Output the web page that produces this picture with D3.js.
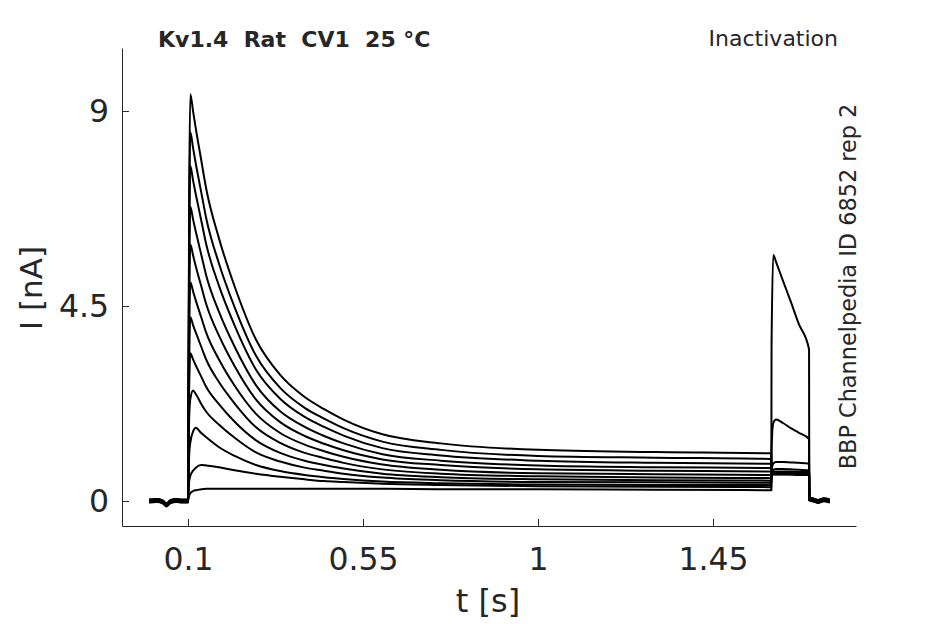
<!DOCTYPE html>
<html>
<head>
<meta charset="utf-8">
<script src="https://cdn.jsdelivr.net/npm/d3@7"></script>
<style>
  body { margin: 0; background: #fff; }
  text { font-family: "DejaVu Sans", sans-serif; fill: #262626; }
</style>
</head>
<body>
<div id="chart"></div>
<script>
// tick values
var xTicks = [0.1, 0.55, 1, 1.45];
var yTicks = [0, 4.5, 9];

// holding level before the prepulse (s, nA)
var tBase = [0, 0.02, 0.035, 0.045, 0.055, 0.07, 0.085, 0.0999];
var iBase = [0.0, 0.01, -0.02, -0.09, -0.01, 0.01, 0.0, 0.0];
// small spread of each sweep around the holding level
var baseShift = [-0.035, -0.03, -0.02, -0.015, -0.01, 0, 0, 0.005, 0.01, 0.02, 0.03, 0.035];

// prepulse 0.1 - 1.6 s
var tPre = [0.1, 0.103, 0.106, 0.113, 0.12, 0.134, 0.147, 0.18, 0.22, 0.275, 0.337, 0.4, 0.45, 0.5, 0.6, 0.75, 1.0, 1.3, 1.6];
var iPre = [
  [0, 7.0, 9.39, 9.00, 8.60, 7.87, 7.20, 6.05, 4.95, 3.72, 2.91, 2.40, 2.12, 1.88, 1.54, 1.33, 1.18, 1.13, 1.10],
  [0, 6.4, 8.51, 8.15, 7.79, 7.13, 6.52, 5.47, 4.47, 3.35, 2.61, 2.15, 1.90, 1.68, 1.37, 1.18, 1.04, 1.00, 0.97],
  [0, 5.8, 7.73, 7.40, 7.08, 6.48, 5.92, 4.96, 4.05, 3.03, 2.36, 1.94, 1.71, 1.51, 1.22, 1.05, 0.93, 0.88, 0.86],
  [0, 5.1, 6.79, 6.50, 6.22, 5.69, 5.20, 4.36, 3.56, 2.67, 2.07, 1.71, 1.50, 1.33, 1.08, 0.93, 0.82, 0.78, 0.76],
  [0, 4.45, 5.92, 5.67, 5.42, 4.96, 4.54, 3.81, 3.11, 2.34, 1.82, 1.50, 1.32, 1.17, 0.96, 0.83, 0.73, 0.70, 0.68],
  [0, 3.8, 5.05, 4.84, 4.63, 4.24, 3.88, 3.26, 2.66, 2.01, 1.57, 1.30, 1.15, 1.02, 0.84, 0.72, 0.64, 0.62, 0.60],
  [0, 3.2, 4.24, 4.06, 3.89, 3.56, 3.26, 2.74, 2.25, 1.70, 1.34, 1.11, 0.99, 0.88, 0.73, 0.63, 0.57, 0.54, 0.53],
  [0, 2.6, 3.41, 3.27, 3.13, 2.87, 2.63, 2.23, 1.83, 1.40, 1.11, 0.93, 0.83, 0.75, 0.63, 0.55, 0.50, 0.48, 0.47],
  [0, 1.9, 2.35, 2.55, 2.47, 2.24, 2.06, 1.76, 1.46, 1.12, 0.91, 0.77, 0.70, 0.63, 0.54, 0.48, 0.44, 0.43, 0.42],
  [0, 1.05, 1.35, 1.60, 1.69, 1.57, 1.47, 1.24, 1.04, 0.83, 0.69, 0.60, 0.55, 0.51, 0.45, 0.41, 0.38, 0.37, 0.37],
  [0, 0.45, 0.58, 0.70, 0.77, 0.83, 0.82, 0.78, 0.71, 0.63, 0.56, 0.50, 0.46, 0.44, 0.40, 0.37, 0.34, 0.33, 0.32],
  [0, 0.12, 0.18, 0.23, 0.25, 0.27, 0.28, 0.28, 0.28, 0.28, 0.28, 0.28, 0.28, 0.28, 0.28, 0.27, 0.27, 0.26, 0.25]
];

// test pulse 1.6 - 1.7 s
var tTest = [1.6005, 1.605, 1.612, 1.63, 1.65, 1.67, 1.697];
var iTest = [
  [0.75, 0.61, 0.61, 0.61, 0.61, 0.60, 0.60],
  [0.70, 0.62, 0.62, 0.62, 0.62, 0.61, 0.61],
  [0.65, 0.63, 0.63, 0.63, 0.62, 0.62, 0.62],
  [0.62, 0.64, 0.64, 0.64, 0.63, 0.63, 0.63],
  [0.60, 0.64, 0.65, 0.65, 0.64, 0.64, 0.64],
  [0.58, 0.65, 0.66, 0.66, 0.65, 0.65, 0.65],
  [0.58, 0.66, 0.67, 0.67, 0.66, 0.66, 0.66],
  [0.60, 0.67, 0.68, 0.68, 0.68, 0.67, 0.67],
  [0.60, 0.72, 0.74, 0.74, 0.73, 0.72, 0.71],
  [0.70, 0.86, 0.90, 0.90, 0.89, 0.88, 0.86],
  [1.20, 1.80, 1.88, 1.80, 1.68, 1.58, 1.43],
  [3.50, 5.68, 5.52, 5.08, 4.60, 4.10, 3.50]
];

// back to holding
var tTail = [1.6975, 1.71, 1.72, 1.735, 1.75];
var iTail = [0.05, 0.02, -0.01, 0.03, 0.0];

var W = 945, H = 624;
var margin = {top: 48, right: 89, bottom: 98, left: 122},
    width = W - margin.left - margin.right,
    height = H - margin.top - margin.bottom;

var svg = d3.select("#chart")
  .append("svg")
  .attr("width", W)
  .attr("height", H);

var g = svg.append("g")
  .attr("transform", `translate(${margin.left}, ${margin.top})`);

var x = d3.scaleLinear()
  .domain([-0.0697, 1.8177])
  .range([0, width]);

var y = d3.scaleLinear()
  .domain([-0.577, 10.455])
  .range([height, 0]);

// build sweeps
var sweeps = iPre.map(function(pre, k) {
  var pts = [];
  tBase.forEach(function(t, j) { pts.push([t, iBase[j] + baseShift[k]]); });
  tPre.forEach(function(t, j) { pts.push([t, pre[j]]); });
  tTest.forEach(function(t, j) { pts.push([t, iTest[k][j]]); });
  tTail.forEach(function(t, j) { pts.push([t, iTail[j] + baseShift[k]]); });
  return pts;
});

var line = d3.line()
  .x(function(d) { return x(d[0]); })
  .y(function(d) { return y(d[1]); })
  .curve(d3.curveMonotoneX);

g.append("g")
  .selectAll("path")
  .data(sweeps)
  .join("path")
    .attr("d", line)
    .attr("fill", "none")
    .attr("stroke", "#000")
    .attr("stroke-width", 2)
    .attr("stroke-linejoin", "round");

// axes
var xAxis = g.append("g")
  .attr("transform", `translate(0, ${height})`)
  .call(d3.axisBottom(x).tickValues(xTicks).tickFormat(d3.format("")).tickSizeInner(-7).tickSizeOuter(0).tickPadding(21.5));

var yAxis = g.append("g")
  .call(d3.axisLeft(y).tickValues(yTicks).tickFormat(d3.format("")).tickSizeInner(-7).tickSizeOuter(0).tickPadding(13));

[xAxis, yAxis].forEach(function(a) {
  a.select(".domain").attr("stroke", "#262626");
  a.selectAll(".tick line").attr("stroke", "#262626");
  a.selectAll(".tick text")
    .style("font-family", "'DejaVu Sans', sans-serif")
    .style("font-size", "31.5px")
    .attr("fill", "#262626");
});

// labels
svg.append("text")
  .attr("x", 488)
  .attr("y", 612)
  .attr("text-anchor", "middle")
  .style("font-size", "32px")
  .text("t [s]");

svg.append("text")
  .attr("transform", "translate(42, 288) rotate(-90)")
  .attr("text-anchor", "middle")
  .style("font-size", "31px")
  .text("I [nA]");

svg.append("text")
  .attr("x", 158)
  .attr("y", 47)
  .style("font-size", "22px")
  .style("font-weight", "bold")
  .style("white-space", "pre")
  .attr("fill", "#000")
  .text("Kv1.4  Rat  CV1  25 °C");

svg.append("text")
  .attr("x", 838)
  .attr("y", 46)
  .attr("text-anchor", "end")
  .style("font-size", "22px")
  .attr("fill", "#000")
  .text("Inactivation");

svg.append("text")
  .attr("transform", "translate(856, 286.5) rotate(-90)")
  .attr("text-anchor", "middle")
  .style("font-size", "22.4px")
  .attr("fill", "#000")
  .text("BBP Channelpedia ID 6852 rep 2");
</script>
</body>
</html>
